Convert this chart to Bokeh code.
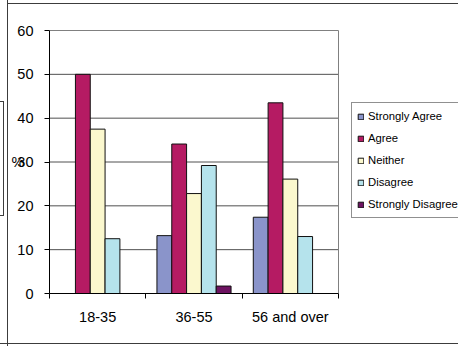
import numpy as np
from bokeh.plotting import figure
from bokeh.layouts import row, column
from bokeh.models import (ColumnDataSource, Range1d, FixedTicker, Legend,
                          LegendItem, Spacer)
from bokeh.embed import file_html
from bokeh.resources import INLINE

# Survey answers by age group (percent of respondents)
age_groups = ["18-35", "36-55", "56 and over"]
responses = ["Strongly Agree", "Agree", "Neither", "Disagree", "Strongly Disagree"]
strongly_agree = [0.0, 13.2, 17.4]
agree = [50.0, 34.1, 43.5]
neither = [37.5, 22.8, 26.1]
disagree = [12.5, 29.2, 13.0]
strongly_disagree = [0.0, 1.7, 0.0]
y_ticks = [0, 10, 20, 30, 40, 50, 60]

colors = ["#8A94CA", "#B51B63", "#FBF8CE", "#B5E3EC", "#6D1361"]
series = [strongly_agree, agree, neither, disagree, strongly_disagree]

FONT = "Liberation Sans"
RULE = "#3c3c3c"

# figure geometry (pixels): the frame runs to the right edge so that the
# legend can sit beside the plot area without being clipped
FIG_W, FIG_H = 450, 339
BORDER_L, BORDER_T, BORDER_B = 41, 25, 50
AREA_W, AREA_H = 289, 263            # plot area inside the frame
frame_w = FIG_W - BORDER_L
frame_h = FIG_H - BORDER_T - BORDER_B
n = len(age_groups)
y_max = y_ticks[-1]

p = figure(width=FIG_W, height=FIG_H, title=None,
           x_range=Range1d(0, n * frame_w / AREA_W),
           y_range=Range1d(0, y_max * frame_h / AREA_H),
           output_backend="svg", toolbar_location=None,
           min_border_left=BORDER_L, min_border_right=0,
           min_border_top=BORDER_T, min_border_bottom=BORDER_B)
p.background_fill_color = "white"
p.border_fill_color = "white"
p.outline_line_color = None
p.xgrid.visible = False
p.ygrid.visible = False

# gridlines and plot-area border
grid_y = [t for t in y_ticks[1:-1]]
p.segment(x0=0, x1=n, y0=grid_y, y1=grid_y, line_color="#505050",
          line_width=1, level="underlay")
p.segment(x0=[0, n], x1=[n, n], y0=[y_max, 0], y1=[y_max, y_max],
          line_color="#808080", line_width=1, level="underlay")

# clustered bars: five series per age group, gap of 1.5 bar widths
bar_w = 1 / 6.5
centers = np.arange(n) + 0.5
items = []
for k, (name, vals, col) in enumerate(zip(responses, series, colors)):
    src = ColumnDataSource(dict(x=centers + (k - 2) * bar_w, top=vals))
    r = p.vbar(x="x", top="top", bottom=0, width=bar_w, source=src,
               fill_color=col, line_color="#111111", line_width=1)
    items.append(LegendItem(label=name, renderers=[r]))

# x axis: labels under the groups, ticks on the group boundaries
xa = p.xaxis[0]
xa.bounds = (0, n)
xa.ticker = FixedTicker(ticks=list(centers), minor_ticks=list(range(n + 1)))
xa.major_label_overrides = {float(c): g for c, g in zip(centers, age_groups)}
xa.major_tick_out = 0
xa.major_tick_in = 0
xa.minor_tick_out = 5
xa.minor_tick_in = 0
xa.minor_tick_line_color = "black"
xa.axis_line_color = "black"
xa.major_label_text_font = FONT
xa.major_label_text_font_size = "14.5px"
xa.major_label_text_color = "black"
xa.major_label_standoff = 10

ya = p.yaxis[0]
ya.bounds = (0, y_max)
ya.ticker = FixedTicker(ticks=y_ticks)
ya.major_tick_out = 5
ya.major_tick_in = 0
ya.minor_tick_out = 0
ya.minor_tick_in = 0
ya.axis_line_color = "black"
ya.major_tick_line_color = "black"
ya.major_label_text_font = FONT
ya.major_label_text_font_size = "14.5px"
ya.major_label_text_color = "black"
ya.major_label_standoff = 11
ya.axis_label = "%"
ya.axis_label_orientation = "horizontal"
ya.axis_label_text_font = FONT
ya.axis_label_text_font_size = "14.5px"
ya.axis_label_text_font_style = "normal"
ya.axis_label_text_color = "black"
ya.axis_label_standoff = -10

legend = Legend(items=items, location=(302, 75), margin=0, padding=5,
                spacing=6, label_height=16, glyph_width=7, glyph_height=7,
                label_standoff=4, label_text_font=FONT,
                label_text_font_size="11.3px", label_text_color="black",
                border_line_color="#222222", border_line_width=1,
                background_fill_color="white", background_fill_alpha=1)
p.add_layout(legend)


def bar(w, h, **css):
    st = {"background-color": RULE}
    st.update(css)
    return Spacer(width=w, height=h, styles=st)


def blank(w, h, **css):
    return Spacer(width=w, height=h, styles=css)


# edge of a neighbouring legend box on the far left
side_box = blank(4, 115, **{"border-top": f"1px solid {RULE}",
                            "border-bottom": f"1px solid {RULE}",
                            "border-right": f"1px solid {RULE}",
                            "box-sizing": "border-box"})
left_strip = column(blank(7, 101), side_box, blank(7, 343 - 101 - 115),
                    spacing=0)

chart_cell = column(blank(FIG_W, 3), bar(FIG_W, 1), p, spacing=0)
upper = row(left_strip, bar(1, 343), chart_cell, spacing=0)
lower = row(blank(7, 3), bar(1, 3), blank(FIG_W, 3), spacing=0)
page = column(upper, bar(458, 1), lower, spacing=0)

open("out.html", "w").write(file_html(page, INLINE))
